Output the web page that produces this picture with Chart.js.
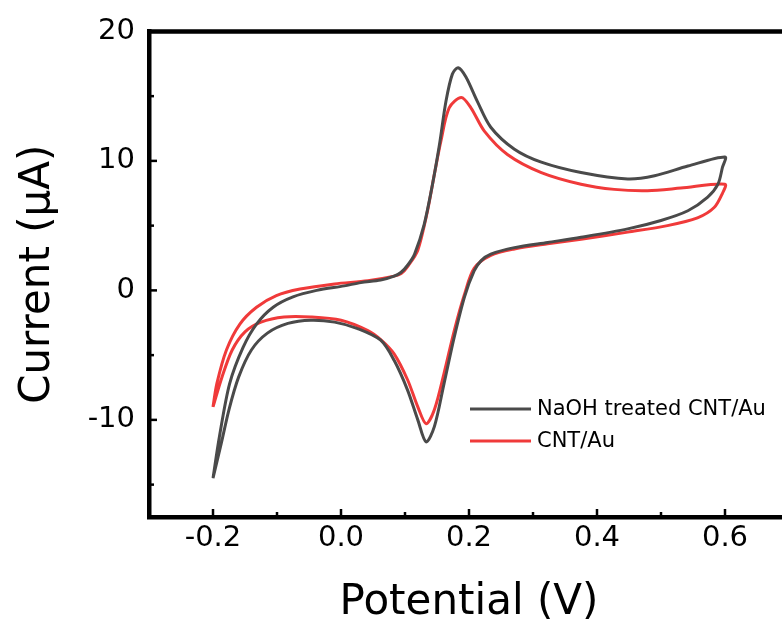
<!DOCTYPE html>
<html lang="en">
<head>
<meta charset="UTF-8">
<title>Cyclic voltammetry</title>
<script src="https://cdn.jsdelivr.net/npm/chart.js"></script>
<style>
  html, body { margin: 0; padding: 0; background: #fff; overflow: hidden; }
  #cv { display: block; }
</style>
</head>
<body>
<canvas id="cv" width="800" height="628"></canvas>
<script>
// each loop: forward sweep -0.2 -> 0.6 V, then back to -0.2 V
const naohPotential = [
  -0.200, -0.190, -0.174, -0.153, -0.132, -0.106, -0.075, -0.038, 0.005, 0.031, 0.062,
  0.083, 0.094, 0.105, 0.115, 0.130, 0.143, 0.154, 0.164, 0.174, 0.183, 0.195, 0.213,
  0.234, 0.271, 0.313, 0.375, 0.448, 0.490, 0.542, 0.600,
  0.596, 0.589, 0.573, 0.542, 0.500, 0.448, 0.375, 0.323, 0.271, 0.234, 0.219, 0.208,
  0.193, 0.177, 0.161, 0.146, 0.133, 0.120, 0.104, 0.083, 0.062, 0.026, -0.010, -0.047,
  -0.083, -0.115, -0.140, -0.160, -0.175, -0.187, -0.200
];
const naohCurrent = [
  -14.5, -11.3, -7.2, -4.4, -2.6, -1.3, -0.5, 0.0, 0.35, 0.6, 0.8,
  1.1, 1.4, 2.0, 2.8, 5.1, 8.2, 11.3, 14.6, 16.7, 17.2, 16.5, 14.6,
  12.6, 10.9, 9.9, 9.1, 8.6, 8.85, 9.6, 10.3,
  9.5, 8.2, 7.2, 6.15, 5.4, 4.75, 4.1, 3.7, 3.3, 2.8, 2.3, 1.5,
  -0.5, -3.6, -7.2, -10.5, -11.7, -10.0, -7.7, -5.4, -3.85, -2.95, -2.45, -2.3,
  -2.55, -3.3, -4.6, -6.7, -9.2, -11.8, -14.5
];
const cntPotential = [
  -0.200, -0.194, -0.179, -0.158, -0.132, -0.101, -0.064, -0.010, 0.042, 0.083, 0.094,
  0.105, 0.120, 0.135, 0.146, 0.156, 0.169, 0.188, 0.203, 0.224, 0.260, 0.313, 0.375,
  0.427, 0.479, 0.531, 0.600,
  0.596, 0.583, 0.557, 0.510, 0.448, 0.375, 0.323, 0.271, 0.234, 0.208, 0.193, 0.177,
  0.161, 0.146, 0.133, 0.120, 0.104, 0.083, 0.062, 0.042, 0.000, -0.047, -0.089, -0.125,
  -0.150, -0.170, -0.186, -0.200
];
const cntCurrent = [
  -9.0, -7.2, -4.6, -2.6, -1.3, -0.4, 0.1, 0.5, 0.75, 1.1, 1.3,
  1.9, 3.1, 6.1, 9.0, 11.5, 14.1, 14.9, 14.1, 12.3, 10.5, 9.1, 8.2,
  7.8, 7.7, 7.9, 8.2,
  7.5, 6.4, 5.6, 5.0, 4.5, 3.95, 3.6, 3.2, 2.7, 1.7, -0.3, -3.1,
  -6.4, -9.2, -10.3, -9.0, -6.9, -4.9, -3.8, -3.1, -2.3, -2.05, -2.05, -2.45,
  -3.2, -4.6, -6.7, -9.0
];

const seriesLabels = ['NaOH treated CNT/Au', 'CNT/Au'];
const seriesColors = ['#4a4a4a', '#f03a3a'];

const xTicks = [-0.2, 0.0, 0.2, 0.4, 0.6];
const xMinorTicks = [-0.1, 0.1, 0.3, 0.5];
const yTicks = [-10, 0, 10, 20];
const yMinorTicks = [-15, -5, 5, 15];

const FONT = "'DejaVu Sans', sans-serif";

function toPoints(xs, ys) {
  return xs.map((x, i) => ({ x: x, y: ys[i] }));
}

// box frame plus inward tick marks
const frameTicks = {
  id: 'frameTicks',
  afterDraw(chart) {
    const { ctx, chartArea: a, scales: { x, y } } = chart;
    ctx.save();
    ctx.strokeStyle = '#000';
    ctx.lineWidth = 4.5;
    ctx.beginPath();
    ctx.moveTo(a.left - 2, a.top);
    ctx.lineTo(a.right, a.top);
    ctx.lineTo(a.right, a.bottom);
    ctx.stroke();

    ctx.lineWidth = 2.5;
    const tick = (px, len, horizontal) => {
      ctx.beginPath();
      if (horizontal) {
        ctx.moveTo(px, a.bottom);
        ctx.lineTo(px, a.bottom - len);
      } else {
        ctx.moveTo(a.left, px);
        ctx.lineTo(a.left + len, px);
      }
      ctx.stroke();
    };
    xTicks.forEach(v => tick(x.getPixelForValue(v), 8, true));
    xMinorTicks.forEach(v => tick(x.getPixelForValue(v), 5, true));
    yTicks.forEach(v => tick(y.getPixelForValue(v), 8, false));
    yMinorTicks.forEach(v => tick(y.getPixelForValue(v), 5, false));
    ctx.restore();
  }
};

const lineLegend = {
  id: 'lineLegend',
  afterDatasetsDraw(chart) {
    const { ctx } = chart;
    const x0 = 470, x1 = 531, top = 409, gap = 32;
    ctx.save();
    ctx.font = '21px ' + FONT;
    ctx.textBaseline = 'middle';
    ctx.textAlign = 'left';
    chart.data.datasets.forEach((ds, i) => {
      const yy = top + i * gap;
      ctx.strokeStyle = ds.borderColor;
      ctx.lineWidth = 3;
      ctx.beginPath();
      ctx.moveTo(x0, yy);
      ctx.lineTo(x1, yy);
      ctx.stroke();
      ctx.fillStyle = '#000';
      ctx.fillText(ds.label, x1 + 6, yy + 1);
    });
    ctx.restore();
  }
};

new Chart(document.getElementById('cv'), {
  type: 'scatter',
  data: {
    datasets: [
      { label: seriesLabels[0], data: toPoints(naohPotential, naohCurrent) },
      { label: seriesLabels[1], data: toPoints(cntPotential, cntCurrent) }
    ].map((ds, i) => Object.assign(ds, {
      showLine: true,
      borderColor: seriesColors[i],
      borderWidth: 3,
      pointRadius: 0,
      tension: 0.3,
      fill: false
    }))
  },
  options: {
    responsive: false,
    animation: false,
    layout: { padding: { left: 0, top: 30, right: 11, bottom: 0 } },
    plugins: { legend: { display: false }, tooltip: { enabled: false } },
    scales: {
      x: {
        type: 'linear',
        min: -0.3,
        max: 0.7,
        afterBuildTicks: s => { s.ticks = xTicks.map(v => ({ value: v })); },
        afterFit: s => { s.height = 111; },
        grid: { display: false, drawTicks: false },
        border: { display: true, color: '#000', width: 4.5 },
        ticks: {
          color: '#000',
          padding: 4,
          maxRotation: 0,
          font: { family: FONT, size: 29 },
          callback: v => v.toFixed(1)
        },
        title: {
          display: true,
          text: 'Potential (V)',
          color: '#000',
          font: { family: FONT, size: 42 },
          padding: { top: 0, bottom: 0 }
        }
      },
      y: {
        type: 'linear',
        min: -17.5,
        max: 20,
        afterBuildTicks: s => { s.ticks = yTicks.map(v => ({ value: v })); },
        afterFit: s => { s.width = 149; },
        grid: { display: false, drawTicks: false },
        border: { display: true, color: '#000', width: 4.5 },
        ticks: {
          color: '#000',
          padding: 14,
          font: { family: FONT, size: 29 },
          callback: v => String(v)
        },
        title: {
          display: true,
          text: 'Current (μA)',
          color: '#000',
          font: { family: FONT, size: 42 },
          padding: { top: 13, bottom: 0 }
        }
      }
    }
  },
  plugins: [frameTicks, lineLegend]
});
</script>
</body>
</html>
